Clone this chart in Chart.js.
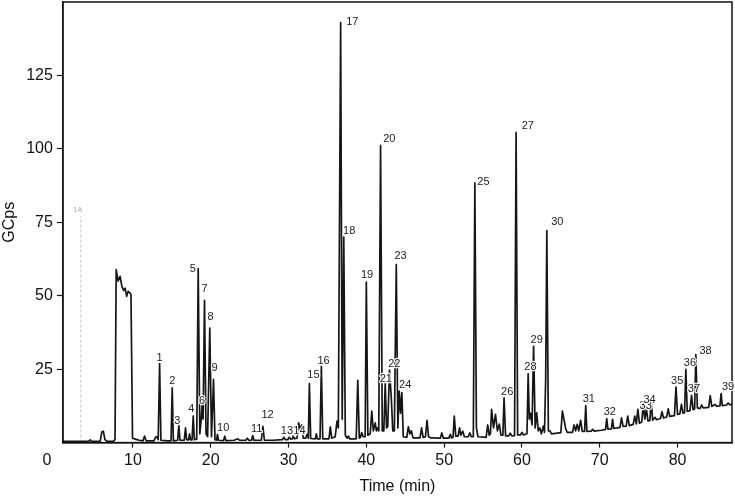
<!DOCTYPE html>
<html>
<head>
<meta charset="utf-8">
<script src="https://cdn.jsdelivr.net/npm/chart.js@4"></script>
<style>
  html, body { margin: 0; padding: 0; background: #fff; }
  #wrap { width: 735px; height: 496px; }
</style>
</head>
<body>
<div id="wrap"><canvas id="chart"></canvas></div>
<script>
// retention time (min) and detector signal (GCps)
const times = [
  1.0, 4.3, 4.5, 4.7, 5.8, 6.0, 6.2, 6.4, 6.7, 7.5,
  7.7, 7.85, 8.1, 8.35, 8.6, 8.8, 9.0, 9.2, 9.4, 9.6,
  9.75, 9.95, 10.3, 10.8, 11.3, 11.5, 11.7, 12.7, 12.9, 13.1,
  13.25, 13.43, 13.6, 14.5, 14.9, 15.05, 15.2, 15.75, 15.9, 16.05,
  16.6, 16.76, 16.9, 17.15, 17.28, 17.4, 17.6, 17.75, 17.9, 18.2,
  18.39, 18.6, 18.78, 18.9, 19.02, 19.2, 19.4, 19.6, 19.88, 20.1,
  20.36, 20.55, 20.75, 20.87, 21.0, 21.65, 21.8, 21.95, 23.0, 23.5,
  23.7, 24.5, 24.7, 24.9, 25.25, 25.4, 25.55, 26.5, 26.7, 26.9,
  28.0, 29.2, 29.4, 29.6, 29.9, 30.1, 30.3, 30.5, 30.6, 30.75,
  31.1, 31.3, 31.5, 31.7, 31.9, 32.2, 32.4, 32.55, 32.68, 32.85,
  33.45, 33.58, 33.7, 34.05, 34.22, 34.4, 35.2, 35.37, 35.55, 36.0,
  36.23, 36.4, 36.7, 36.9, 37.1, 37.3, 37.55, 37.7, 37.85, 38.7,
  38.9, 39.1, 39.25, 39.4, 39.6, 39.85, 40.0, 40.2, 40.5, 40.7,
  40.9, 41.15, 41.3, 41.45, 41.6, 41.83, 42.05, 42.25, 42.43, 42.6,
  42.75, 42.98, 43.2, 43.4, 43.6, 43.85, 44.05, 44.23, 44.4, 44.57,
  44.75, 45.2, 45.4, 45.6, 45.8, 46.0, 46.9, 47.1, 47.3, 47.6,
  47.8, 48.0, 48.3, 49.5, 49.7, 49.9, 50.6, 50.8, 50.95, 51.15,
  51.3, 51.5, 51.8, 51.98, 52.15, 52.4, 52.6, 53.1, 53.3, 53.5,
  53.75, 53.95, 54.15, 54.35, 55.4, 55.6, 55.8, 55.95, 56.1, 56.35,
  56.6, 56.85, 57.1, 57.3, 57.55, 57.7, 57.9, 58.3, 58.5, 58.7,
  59.05, 59.25, 59.45, 59.8, 60.0, 60.2, 60.65, 60.8, 60.95, 61.1,
  61.3, 61.5, 61.7, 61.9, 62.1, 62.3, 62.5, 62.75, 62.9, 63.05,
  63.2, 63.4, 63.6, 63.8, 64.5, 65.0, 65.2, 65.4, 65.6, 65.8,
  66.5, 66.7, 66.9, 67.1, 67.3, 67.55, 67.75, 68.05, 68.2, 68.35,
  68.9, 69.1, 69.3, 70.2, 70.75, 70.9, 71.05, 71.5, 71.65, 71.8,
  72.6, 72.8, 73.0, 73.4, 73.6, 73.8, 74.3, 74.5, 74.7, 74.9,
  75.1, 75.4, 75.6, 75.8, 76.0, 76.2, 76.45, 76.6, 76.8, 77.1,
  77.3, 77.8, 78.0, 78.2, 78.6, 78.8, 79.0, 79.6, 79.8, 80.0,
  80.3, 80.5, 80.7, 80.9, 81.07, 81.25, 81.6, 81.8, 82.0, 82.2,
  82.35, 82.55, 82.9, 83.1, 83.3, 84.0, 84.2, 84.4, 84.8, 85.0,
  85.45, 85.6, 85.75, 86.3, 86.5, 86.7, 87.0
];
const signal = [
  0.4, 0.4, 0.9, 0.4, 0.5, 3.6, 3.9, 1.0, 0.4, 0.5,
  1.0, 58.9, 55.0, 56.6, 53.0, 51.8, 52.6, 49.8, 51.5, 51.0,
  50.5, 1.5, 1.2, 0.8, 0.6, 2.2, 0.6, 0.6, 1.8, 2.0,
  1.0, 26.9, 0.8, 0.6, 0.6, 18.6, 0.6, 0.8, 5.8, 0.8,
  0.8, 5.0, 1.0, 0.9, 3.0, 0.9, 0.9, 9.0, 1.0, 1.2,
  59.2, 3.0, 8.0, 13.0, 8.0, 48.4, 3.0, 2.0, 39.0, 2.0,
  21.5, 1.0, 0.8, 2.8, 0.8, 0.7, 2.2, 0.7, 0.8, 1.3,
  0.8, 0.8, 1.5, 0.8, 0.8, 2.4, 0.8, 0.8, 5.5, 0.8,
  0.8, 1.0, 1.8, 1.0, 1.0, 1.8, 1.2, 1.3, 2.2, 1.3,
  1.5, 6.7, 4.5, 6.0, 1.5, 1.5, 2.8, 1.5, 20.1, 1.4,
  1.3, 3.0, 1.3, 1.3, 26.0, 1.3, 1.3, 5.4, 1.5, 2.0,
  7.3, 5.0, 143.0, 8.0, 70.0, 2.5, 1.5, 2.2, 1.3, 1.3,
  21.2, 1.5, 1.8, 3.4, 2.0, 2.0, 54.6, 2.5, 3.0, 10.7,
  4.0, 6.7, 4.0, 5.0, 4.0, 101.2, 4.0, 4.0, 20.3, 5.0,
  5.5, 24.7, 15.8, 4.0, 4.0, 60.6, 5.0, 17.5, 10.0, 17.0,
  2.0, 1.8, 5.4, 3.0, 4.0, 1.6, 1.6, 5.0, 1.8, 2.0,
  7.6, 2.0, 1.6, 1.5, 3.3, 1.5, 1.5, 2.8, 1.6, 1.8,
  9.0, 2.2, 2.2, 5.0, 2.5, 3.9, 2.0, 2.0, 3.3, 2.0,
  2.0, 88.4, 5.0, 2.0, 1.8, 6.0, 2.5, 3.0, 11.3, 5.0,
  9.6, 4.0, 6.3, 2.5, 2.5, 15.2, 2.3, 2.3, 3.2, 2.3,
  2.4, 105.6, 2.6, 2.6, 3.5, 2.6, 3.0, 23.4, 8.0, 10.0,
  6.0, 32.8, 5.0, 10.1, 4.0, 5.0, 3.0, 5.6, 3.5, 21.3,
  72.2, 4.0, 4.0, 3.0, 3.2, 3.4, 10.7, 8.0, 5.0, 3.5,
  3.5, 6.0, 4.0, 6.2, 4.0, 7.6, 3.8, 3.8, 12.6, 3.8,
  3.9, 4.5, 3.9, 4.2, 4.5, 8.2, 4.6, 4.7, 7.9, 4.8,
  5.2, 8.4, 5.5, 5.6, 9.0, 5.8, 6.2, 9.0, 6.4, 11.3,
  6.6, 7.0, 13.0, 8.0, 11.5, 7.4, 7.5, 14.7, 7.6, 8.6,
  7.8, 8.2, 10.5, 8.4, 8.7, 11.5, 8.9, 9.2, 18.9, 9.6,
  9.8, 13.0, 10.0, 10.2, 24.9, 10.6, 10.9, 16.1, 11.2, 11.5,
  30.0, 11.8, 11.6, 12.8, 11.8, 12.0, 16.0, 12.3, 13.0, 12.4,
  12.5, 16.7, 12.6, 12.8, 13.5, 12.9, 13.0
];

// peak numbers and where their labels sit (time, signal)
const peakLabels = ['1','2','3','4','5','6','7','8','9','10','11','12','13','14','15','16','17','18','19','20',
  '21','22','23','24','25','26','27','28','29','30','31','32','33','34','35','36','37','38','39'];
const labelTimes = [13.43, 15.06, 15.7, 17.5, 17.7, 18.9, 19.2, 19.97, 20.5, 21.6, 25.9, 27.3, 29.8, 31.4, 33.2, 34.5, 38.2, 37.8, 40.1, 42.95,
  42.5, 43.6, 44.4, 45.0, 55.05, 58.1, 60.75, 61.1, 61.9, 64.55, 68.6, 71.3, 75.9, 76.4, 79.95, 81.6, 82.1, 83.6, 86.5];
const labelValues = [28.8, 21.0, 7.3, 11.6, 59.2, 14.3, 52.3, 42.8, 25.4, 5.1, 4.5, 9.4, 3.9, 3.9, 22.9, 27.7, 143.1, 72.2, 57.2, 103.3,
  21.8, 26.6, 63.4, 19.5, 88.9, 17.3, 107.9, 25.7, 35.1, 75.1, 14.7, 10.5, 12.6, 14.4, 21.1, 27.1, 18.1, 31.3, 18.9];

// faint marker "1A"
const markerTime = 3.3;
const markerTop = 77;

const xTicks = [10, 20, 30, 40, 50, 60, 70, 80];
const yTicks = [25, 50, 75, 100, 125];

const FONT = "'Liberation Sans', Arial, sans-serif";

const annotate = {
  id: 'annotate',
  afterDatasetsDraw(chart) {
    const { ctx, chartArea: a, scales: { x, y } } = chart;
    ctx.save();
    // frame on top and right
    ctx.strokeStyle = '#111';
    ctx.lineWidth = 1.5;
    ctx.strokeRect(a.left, a.top, a.right - a.left, a.bottom - a.top);

    ctx.font = '11px ' + FONT;
    ctx.textAlign = 'center';
    ctx.textBaseline = 'middle';
    ctx.lineJoin = 'round';
    peakLabels.forEach((lab, i) => {
      const px = x.getPixelForValue(labelTimes[i]);
      const py = y.getPixelForValue(labelValues[i]);
      ctx.strokeStyle = 'rgba(255,255,255,0.9)';
      ctx.lineWidth = 2.5;
      ctx.strokeText(lab, px, py);
      ctx.fillStyle = '#222';
      ctx.fillText(lab, px, py);
    });

    ctx.font = '7px ' + FONT;
    ctx.fillStyle = '#aaa';
    ctx.fillText('1A', x.getPixelForValue(markerTime) - 3, y.getPixelForValue(markerTop) - 6);

    // origin label on the time axis
    ctx.font = '16px ' + FONT;
    ctx.fillStyle = '#111';
    ctx.textBaseline = 'top';
    ctx.fillText('0', a.left - 16, a.bottom + 10);
    ctx.restore();
  }
};

new Chart(document.getElementById('chart'), {
  type: 'line',
  data: {
    datasets: [{
      data: times.map((t, i) => ({ x: t, y: signal[i] })),
      borderColor: '#161616',
      borderWidth: 1.7,
      borderJoinStyle: 'round',
      pointRadius: 0,
      tension: 0,
      fill: false
    }, {
      data: [{ x: markerTime, y: 0 }, { x: markerTime, y: markerTop }],
      borderColor: '#c4c4c4',
      borderWidth: 1,
      borderDash: [3, 2],
      pointRadius: 0,
      fill: false
    }]
  },
  options: {
    responsive: true,
    maintainAspectRatio: false,
    animation: false,
    layout: { padding: { top: 2, right: 3, left: 0, bottom: 0 } },
    plugins: { legend: { display: false }, tooltip: { enabled: false } },
    scales: {
      x: {
        type: 'linear',
        min: 1,
        max: 87,
        afterBuildTicks: s => { s.ticks = xTicks.map(v => ({ value: v })); },
        grid: { drawOnChartArea: false, tickLength: 5, color: '#111', tickWidth: 1.2 },
        border: { color: '#111', width: 1.5 },
        ticks: { color: '#111', font: { family: FONT, size: 16 }, padding: 3, maxRotation: 0 },
        title: { display: true, text: 'Time (min)', color: '#111', font: { family: FONT, size: 16 }, padding: { top: 4, bottom: 0 } }
      },
      y: {
        min: 0,
        max: 150,
        afterBuildTicks: s => { s.ticks = yTicks.map(v => ({ value: v })); },
        afterFit: s => { s.paddingTop = 0; },
        grid: { drawOnChartArea: false, tickLength: 6, color: '#111', tickWidth: 1.2 },
        border: { color: '#111', width: 1.5 },
        ticks: { color: '#111', font: { family: FONT, size: 16 }, padding: 4 },
        title: { display: true, text: 'GCps', color: '#111', font: { family: FONT, size: 16 }, padding: { top: 0, bottom: 3 } }
      }
    }
  },
  plugins: [annotate]
});
</script>
</body>
</html>
